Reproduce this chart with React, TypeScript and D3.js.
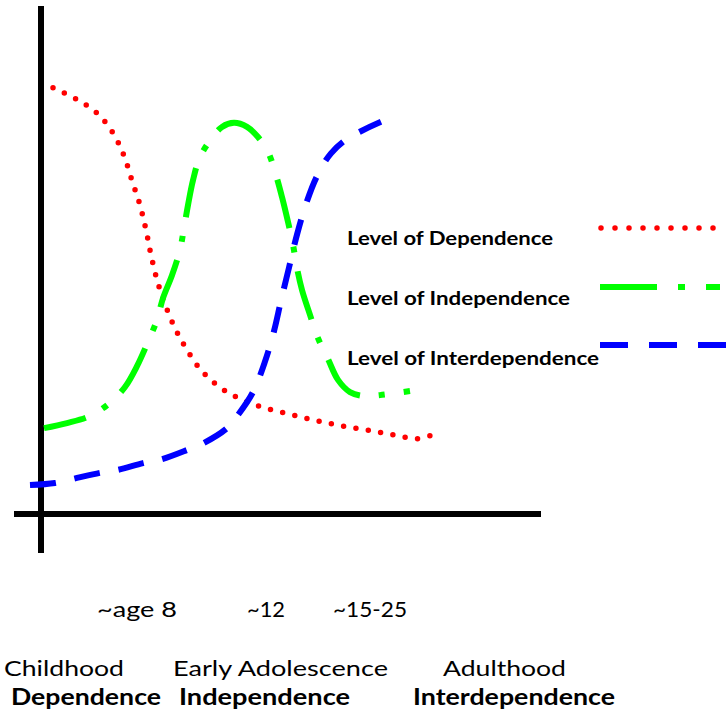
import React from "react";
import * as d3 from "d3";

// Curves (x: 0..100 along time axis, y: 0..100 level)
const dependenceX = [2.4, 7.0, 11.2, 14.4, 16.6, 18.2, 19.8, 21.0, 22.0, 23.2, 24.8, 26.8, 29.2, 32.2, 36.0, 40.4, 45.4, 50.4, 55.4, 60.4, 65.4, 70.4, 75.4, 77.8];
const dependenceY = [83.9, 81.7, 78.9, 75.0, 70.5, 65.6, 60.8, 55.9, 51.0, 46.1, 41.3, 36.6, 32.3, 28.1, 24.8, 22.4, 20.7, 19.5, 18.3, 17.3, 16.5, 15.6, 14.8, 15.4];

const independenceX = [0.6, 5.2, 9.8, 13.8, 16.8, 19.2, 21.4, 23.2, 24.4, 26.2, 27.8, 28.6, 29.4, 30.4, 31.8, 34.2, 36.2, 38.6, 41.2, 43.4, 45.4, 47.0, 48.2, 49.4, 50.4, 51.2, 52.2, 53.8, 55.4, 57.4, 59.4, 61.8, 64.8, 67.8, 73.8];
const independenceY = [16.9, 17.9, 19.3, 21.9, 25.0, 29.1, 33.9, 38.2, 42.5, 47.0, 52.0, 56.3, 60.8, 65.7, 70.3, 74.0, 76.2, 77.0, 76.2, 74.2, 71.3, 66.7, 62.4, 57.5, 53.0, 48.4, 44.1, 39.2, 34.6, 30.5, 26.4, 24.0, 23.2, 23.4, 24.2];

const interdependenceX = [-2.2, 2.8, 7.2, 11.8, 15.4, 20.4, 24.2, 29.2, 32.6, 37.2, 39.4, 42.4, 44.8, 46.6, 48.0, 49.6, 51.2, 53.0, 55.2, 58.0, 61.5, 68.0];
const interdependenceY = [5.7, 6.1, 7.1, 8.1, 8.7, 10.0, 10.8, 12.6, 14.0, 16.9, 19.5, 24.0, 30.0, 36.0, 42.0, 48.5, 55.0, 61.0, 66.5, 71.0, 74.0, 77.2];

const legendLabels = ["Level of Dependence", "Level of Independence", "Level of Interdependence"];
const ageLabels = ["~age 8", "~12", "~15-25"];
const stageLabels = ["Childhood", "Early Adolescence", "Adulthood"];
const modeLabels = ["Dependence", "Independence", "Interdependence"];

const W = 728;
const H = 712;

export default function App() {
  const x = d3.scaleLinear().domain([0, 100]).range([41, 541]);
  const y = d3.scaleLinear().domain([0, 100]).range([514, 6]);

  const line = d3
    .line<[number, number]>()
    .x((d) => x(d[0]))
    .y((d) => y(d[1]))
    .curve(d3.curveCatmullRom.alpha(0.5));

  const zip = (a: number[], b: number[]) => a.map((v, i) => [v, b[i]] as [number, number]);

  const series = [
    { pts: zip(dependenceX, dependenceY), color: "#ff0000", width: 5.5, dash: "0 12.5", offset: 0, cap: "round", legDash: "0 14", legX: [601, 714] },
    { pts: zip(independenceX, independenceY), color: "#00ff00", width: 6, dash: "50 19 6 19", offset: 7, cap: "butt", legDash: "57 21 7 21", legX: [600, 720] },
    { pts: zip(interdependenceX, interdependenceY), color: "#0000ff", width: 6, dash: "26 19", offset: 0, cap: "butt", legDash: "28 21", legX: [600, 730] },
  ];

  const legendLineY = [228, 287, 345];
  const legendTextY = [245, 305, 365];
  const legendTextW = [206, 223, 252];

  const ageX = [97, 247, 333];
  const ageW = [80, 38, 74];
  const stageX = [4, 173, 443];
  const stageW = [120, 215, 123];
  const modeX = [11, 179, 413];
  const modeW = [150, 171, 202];

  return (
    <svg
      width={W}
      height={H}
      style={{ position: "absolute", left: 0, top: 0, background: "#fff" }}
      xmlns="http://www.w3.org/2000/svg"
    >
      <rect width={W} height={H} fill="#fff" />
      {/* axes */}
      <line x1={x(0)} x2={x(0)} y1={y(100)} y2={553} stroke="#000" strokeWidth={6} />
      <line x1={14} x2={x(100)} y1={y(0)} y2={y(0)} stroke="#000" strokeWidth={6} />

      {series.map((s, i) => (
        <path
          key={"s" + i}
          d={line(s.pts) || ""}
          fill="none"
          stroke={s.color}
          strokeWidth={s.width}
          strokeDasharray={s.dash}
          strokeDashoffset={s.offset}
          strokeLinecap={s.cap as any}
        />
      ))}

      {/* legend */}
      {series.map((s, i) => (
        <g key={"l" + i}>
          <line
            x1={s.legX[0]}
            x2={s.legX[1]}
            y1={legendLineY[i]}
            y2={legendLineY[i]}
            stroke={s.color}
            strokeWidth={s.width}
            strokeDasharray={s.legDash}
            strokeLinecap={s.cap as any}
          />
          <text
            x={347}
            y={legendTextY[i]}
            fontFamily="Lato, 'Open Sans', sans-serif"
            fontWeight={700}
            fontSize={19}
            textLength={legendTextW[i]}
            lengthAdjust="spacingAndGlyphs"
            fill="#000"
          >
            {legendLabels[i]}
          </text>
        </g>
      ))}

      {/* bottom labels */}
      {ageLabels.map((t, i) => (
        <text
          key={"a" + i}
          x={ageX[i]}
          y={617}
          fontFamily="Lato, 'Open Sans', sans-serif"
          fontWeight={400}
          fontSize={21}
          textLength={ageW[i]}
          lengthAdjust="spacingAndGlyphs"
          fill="#000"
        >
          {t}
        </text>
      ))}
      {stageLabels.map((t, i) => (
        <text
          key={"st" + i}
          x={stageX[i]}
          y={676}
          fontFamily="Lato, 'Open Sans', sans-serif"
          fontWeight={400}
          fontSize={22}
          textLength={stageW[i]}
          lengthAdjust="spacingAndGlyphs"
          fill="#000"
        >
          {t}
        </text>
      ))}
      {modeLabels.map((t, i) => (
        <text
          key={"m" + i}
          x={modeX[i]}
          y={705}
          fontFamily="Lato, 'Open Sans', sans-serif"
          fontWeight={700}
          fontSize={22}
          textLength={modeW[i]}
          lengthAdjust="spacingAndGlyphs"
          fill="#000"
        >
          {t}
        </text>
      ))}
    </svg>
  );
}
